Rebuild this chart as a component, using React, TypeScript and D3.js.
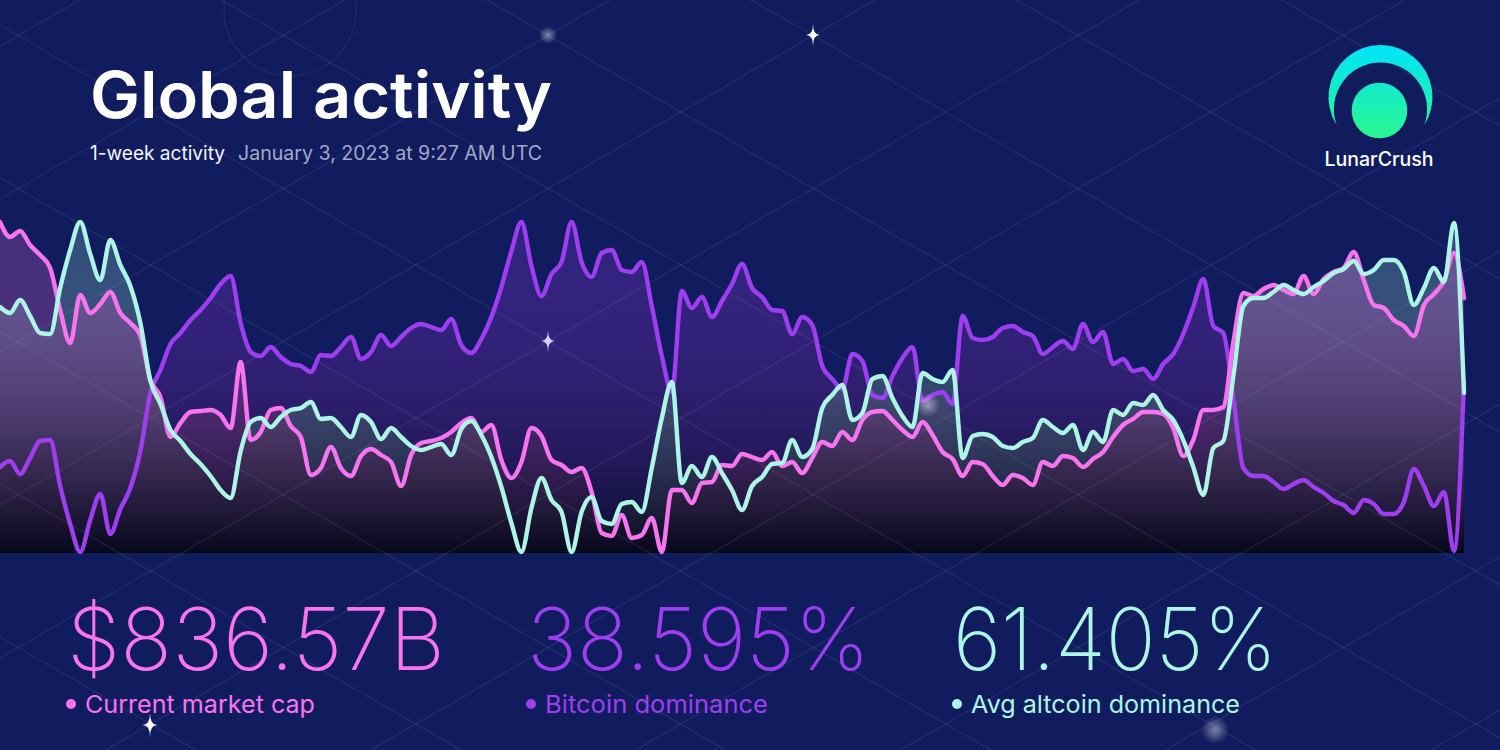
import React, { useEffect } from "react";
import * as d3 from "d3";

// ---------- data ----------
const MARKET_CAP_B = [
  844.1, 842.6, 843.2, 841.8, 840.8, 839.5, 835.3, 832.0, 836.8, 835.0,
  835.9, 837.1, 835.0, 834.0, 832.7, 828.3, 826.6, 822.6, 824.0, 825.1,
  825.2, 825.3, 824.8, 823.5, 830.1, 822.3, 823.1, 825.3, 825.5, 823.7,
  822.6, 818.8, 819.5, 821.6, 819.5, 818.7, 820.7, 821.4, 820.8, 820.1,
  817.7, 820.8, 822.0, 822.2, 822.5, 823.1, 824.0, 824.5, 823.1, 823.8,
  820.3, 818.5, 820.1, 823.5, 822.7, 820.3, 819.8, 819.1, 819.5, 817.1,
  813.0, 812.7, 814.8, 812.5, 812.8, 814.5, 811.1, 817.3, 817.3, 816.0,
  818.0, 818.1, 819.8, 819.7, 820.9, 820.6, 820.3, 821.1, 819.7, 820.1,
  819.0, 820.5, 822.1, 821.7, 823.1, 822.3, 824.3, 825.1, 825.2, 824.3,
  823.3, 822.6, 824.1, 822.8, 821.1, 820.4, 818.7, 820.1, 819.9, 818.7,
  817.8, 818.8, 818.5, 817.8, 820.1, 819.7, 820.7, 820.5, 819.6, 820.4,
  821.1, 822.6, 823.8, 824.4, 825.1, 825.1, 824.9, 823.5, 820.7, 822.3,
  825.3, 825.3, 825.6, 832.1, 837.0, 836.7, 837.4, 837.8, 837.3, 836.9,
  838.7, 836.9, 838.4, 839.1, 839.5, 841.1, 838.3, 835.8, 835.5, 834.3,
  833.7, 832.7, 835.8, 836.9, 838.2, 841.0, 836.5,
];

const BTC_DOMINANCE = [
  38.424, 38.436, 38.41, 38.442, 38.476, 38.478, 38.386, 38.31, 38.254, 38.318,
  38.37, 38.29, 38.34, 38.382, 38.456, 38.572, 38.618, 38.67, 38.692, 38.718,
  38.738, 38.762, 38.79, 38.806, 38.712, 38.654, 38.646, 38.664, 38.644, 38.63,
  38.626, 38.614, 38.648, 38.646, 38.664, 38.684, 38.64, 38.654, 38.688, 38.666,
  38.684, 38.702, 38.71, 38.704, 38.698, 38.72, 38.668, 38.652, 38.68, 38.724,
  38.784, 38.856, 38.914, 38.826, 38.766, 38.81, 38.834, 38.914, 38.834, 38.804,
  38.852, 38.858, 38.818, 38.814, 38.834, 38.746, 38.646, 38.574, 38.776, 38.742,
  38.764, 38.724, 38.756, 38.79, 38.83, 38.782, 38.764, 38.738, 38.736, 38.69,
  38.724, 38.708, 38.626, 38.6, 38.58, 38.65, 38.636, 38.568, 38.562, 38.606,
  38.642, 38.664, 38.556, 38.568, 38.574, 38.55, 38.726, 38.682, 38.678, 38.684,
  38.702, 38.706, 38.694, 38.686, 38.65, 38.664, 38.676, 38.66, 38.71, 38.674,
  38.694, 38.63, 38.64, 38.616, 38.62, 38.6, 38.63, 38.65, 38.69, 38.744,
  38.8, 38.706, 38.692, 38.562, 38.422, 38.406, 38.406, 38.394, 38.38, 38.39,
  38.398, 38.384, 38.372, 38.356, 38.348, 38.332, 38.358, 38.35, 38.33, 38.33,
  38.354, 38.42, 38.386, 38.346, 38.374, 38.256, 38.596,
];

const ALT_DOMINANCE = [
  61.576, 61.564, 61.59, 61.558, 61.524, 61.522, 61.614, 61.69, 61.746, 61.682,
  61.63, 61.71, 61.66, 61.618, 61.544, 61.428, 61.382, 61.33, 61.308, 61.282,
  61.262, 61.238, 61.21, 61.194, 61.288, 61.346, 61.354, 61.336, 61.356, 61.37,
  61.374, 61.386, 61.352, 61.354, 61.336, 61.316, 61.36, 61.346, 61.312, 61.334,
  61.316, 61.298, 61.29, 61.296, 61.302, 61.28, 61.332, 61.348, 61.32, 61.276,
  61.216, 61.144, 61.086, 61.174, 61.234, 61.19, 61.166, 61.086, 61.166, 61.196,
  61.148, 61.142, 61.182, 61.186, 61.166, 61.254, 61.354, 61.426, 61.224, 61.258,
  61.236, 61.276, 61.244, 61.21, 61.17, 61.218, 61.236, 61.262, 61.264, 61.31,
  61.276, 61.292, 61.374, 61.4, 61.42, 61.35, 61.364, 61.432, 61.438, 61.394,
  61.358, 61.336, 61.444, 61.432, 61.426, 61.45, 61.274, 61.318, 61.322, 61.316,
  61.298, 61.294, 61.306, 61.314, 61.35, 61.336, 61.324, 61.34, 61.29, 61.326,
  61.306, 61.37, 61.36, 61.384, 61.38, 61.4, 61.37, 61.35, 61.31, 61.256,
  61.2, 61.294, 61.308, 61.438, 61.578, 61.594, 61.594, 61.606, 61.62, 61.61,
  61.602, 61.616, 61.628, 61.644, 61.652, 61.668, 61.642, 61.65, 61.67, 61.67,
  61.646, 61.58, 61.614, 61.654, 61.626, 61.744, 61.404,
];

const START_UTC = Date.UTC(2022, 11, 27, 9, 27);
const END_UTC = Date.UTC(2023, 0, 3, 9, 27);

const TITLE = "Global activity";
const PERIOD_LABEL = "1-week activity";
const TIMESTAMP_LABEL = "January 3, 2023 at 9:27 AM UTC";
const STAT_VALUES = ["$836.57B", "38.595%", "61.405%"];
const STAT_LABELS = ["Current market cap", "Bitcoin dominance", "Avg altcoin dominance"];
const BRAND = "LunarCrush";

// ---------- styles ----------
const W = 1500;
const H = 750;
const BG = "#101c5e";
const PINK = "#f974ef";
const PURPLE = "#9f3ef0";
const CYAN = "#adf6e6";
const PLOT = { left: 0, right: 1464, top: 220, bottom: 553 };
const FONT = "Inter, 'Noto Sans', 'DejaVu Sans', sans-serif";

function sparkle(cx: number, cy: number, r: number) {
  const w = r * 0.62;
  return `M${cx},${cy - r} Q${cx},${cy} ${cx + w},${cy} Q${cx},${cy} ${cx},${cy + r} Q${cx},${cy} ${cx - w},${cy} Q${cx},${cy} ${cx},${cy - r} Z`;
}

export default function App() {
  useEffect(() => {
    document.body.style.margin = "0";
    document.body.style.background = BG;
    document.body.style.overflow = "hidden";
  }, []);

  const n = MARKET_CAP_B.length;
  const times = MARKET_CAP_B.map(
    (_, i) => new Date(START_UTC + (i * (END_UTC - START_UTC)) / (n - 1))
  );
  const x = d3
    .scaleTime()
    .domain([new Date(START_UTC), new Date(END_UTC)])
    .range([PLOT.left, PLOT.right]);

  const build = (key: string, values: number[], color: string) => {
    const y = d3
      .scaleLinear()
      .domain(d3.extent(values) as [number, number])
      .range([PLOT.bottom - 1, PLOT.top + 2]);
    const pts = values.map((v, i) => [times[i], v] as [Date, number]);
    const line = d3
      .line<[Date, number]>()
      .x((d) => x(d[0]))
      .y((d) => y(d[1]))
      .curve(d3.curveMonotoneX);
    const area = d3
      .area<[Date, number]>()
      .x((d) => x(d[0]))
      .y0(PLOT.bottom)
      .y1((d) => y(d[1]))
      .curve(d3.curveMonotoneX);
    return { key, color, linePath: line(pts) || "", areaPath: area(pts) || "" };
  };

  const btc = build("btc", BTC_DOMINANCE, PURPLE);
  const mcap = build("mcap", MARKET_CAP_B, PINK);
  const alt = build("alt", ALT_DOMINANCE, CYAN);
  const areaOrder = [btc, alt, mcap];
  const lineOrder = [btc, mcap, alt];

  // decorative lattice (lines at +/-30 degrees)
  const slope = Math.tan(Math.PI / 6);
  const lattice: { x1: number; y1: number; x2: number; y2: number }[] = [];
  d3.range(-14, 14).forEach((k) => {
    const cA = -281 + 153 * k;
    const cB = 811 + 153 * k;
    lattice.push({ x1: -20, y1: -20 * slope + cA, x2: W + 20, y2: (W + 20) * slope + cA });
    lattice.push({ x1: -20, y1: 20 * slope + cB, x2: W + 20, y2: -(W + 20) * slope + cB });
  });

  // logo geometry
  const lc = { x: 1380.5, y: 97, r: 52 };
  const ic = { x: 1380.5, y: 109.6, r: 46.6 };
  const tipY = 125;
  const tipDx = Math.sqrt(lc.r * lc.r - (tipY - lc.y) * (tipY - lc.y));
  const crescent = `M${lc.x - tipDx},${tipY} A${lc.r},${lc.r} 0 1 1 ${lc.x + tipDx},${tipY} A${ic.r},${ic.r} 0 1 0 ${lc.x - tipDx},${tipY} Z`;

  const statX = [67, 527, 953];
  const statColors = [PINK, PURPLE, CYAN];
  const statWidths = [378, 343, 324];
  const labelWidths = [230, 223, 269];

  return (
    <svg
      width={W}
      height={H}
      viewBox={`0 0 ${W} ${H}`}
      style={{ position: "absolute", left: 0, top: 0, display: "block" }}
    >
      <defs>
        {[btc, mcap, alt].map((s) => (
          <linearGradient
            key={s.key}
            id={`fill-${s.key}`}
            gradientUnits="userSpaceOnUse"
            x1={0}
            y1={PLOT.top}
            x2={0}
            y2={PLOT.bottom}
          >
            <stop offset="0%" stopColor={s.color} stopOpacity={0.21} />
            <stop offset="100%" stopColor="#06071a" stopOpacity={0.68} />
          </linearGradient>
        ))}
        <linearGradient id="logoGrad" gradientUnits="userSpaceOnUse" x1={0} y1={45} x2={0} y2={140}>
          <stop offset="0%" stopColor="#00e4fa" />
          <stop offset="100%" stopColor="#2cf78c" />
        </linearGradient>
        <radialGradient id="glow">
          <stop offset="0%" stopColor="#ffffff" stopOpacity={0.45} />
          <stop offset="100%" stopColor="#ffffff" stopOpacity={0} />
        </radialGradient>
      </defs>

      <rect x={0} y={0} width={W} height={H} fill={BG} />

      <circle cx={290} cy={10} r={66} fill="none" stroke="#ffffff" strokeOpacity={0.06} strokeWidth={1.5} />

      {/* areas */}
      <g>
        {areaOrder.map((s) => (
          <path key={s.key} d={s.areaPath} fill={`url(#fill-${s.key})`} />
        ))}
      </g>

      {/* lattice */}
      <g stroke="#a9bedf" strokeOpacity={0.1} strokeWidth={1.5}>
        {lattice.map((l, i) => (
          <line key={i} x1={l.x1} y1={l.y1} x2={l.x2} y2={l.y2} />
        ))}
      </g>

      {/* lines */}
      <g fill="none" strokeWidth={4.4} strokeLinejoin="round" strokeLinecap="round">
        {lineOrder.map((s) => (
          <path key={s.key} d={s.linePath} stroke={s.color} />
        ))}
      </g>

      {/* stars & glows */}
      <circle cx={548} cy={35} r={9} fill="url(#glow)" />
      <circle cx={928} cy={405} r={12} fill="url(#glow)" />
      <circle cx={1215} cy={730} r={14} fill="url(#glow)" />
      <path d={sparkle(813, 35, 11)} fill="#ffffff" />
      <path d={sparkle(548, 341, 11)} fill="#d9cdf3" />
      <path d={sparkle(150, 725, 12)} fill="#ffffff" />

      {/* title */}
      <text x={90} y={118} fill="#ffffff" fontFamily={FONT} fontWeight={600} fontSize={64} textLength={462} lengthAdjust="spacingAndGlyphs">
        {TITLE}
      </text>
      <text x={90} y={160} fontFamily={FONT} fontSize={19.5}>
        <tspan fill="#f4f5fa" textLength={135} lengthAdjust="spacingAndGlyphs">{PERIOD_LABEL}</tspan>
        <tspan x={238} fill="#a3a8c6" textLength={304} lengthAdjust="spacingAndGlyphs">{TIMESTAMP_LABEL}</tspan>
      </text>

      {/* logo */}
      <path d={crescent} fill="url(#logoGrad)" />
      <circle cx={1379.5} cy={110.5} r={27.8} fill="url(#logoGrad)" />
      <text x={1379} y={166} textAnchor="middle" fill="#ffffff" fontFamily={FONT} fontWeight={500} fontSize={19.5}>
        {BRAND}
      </text>

      {/* stats */}
      {STAT_VALUES.map((v, i) => (
        <g key={v}>
          <text
            x={statX[i]}
            y={670}
            fill={statColors[i]}
            fontFamily={FONT}
            fontWeight={200}
            fontSize={86}
            textLength={statWidths[i]}
            lengthAdjust="spacingAndGlyphs"
          >
            {v}
          </text>
          <circle cx={statX[i] + 4} cy={704} r={5} fill={statColors[i]} />
          <text
            x={statX[i] + 18}
            y={713}
            fill={statColors[i]}
            fontFamily={FONT}
            fontSize={24.5}
            textLength={labelWidths[i]}
            lengthAdjust="spacingAndGlyphs"
          >
            {STAT_LABELS[i]}
          </text>
        </g>
      ))}
    </svg>
  );
}
